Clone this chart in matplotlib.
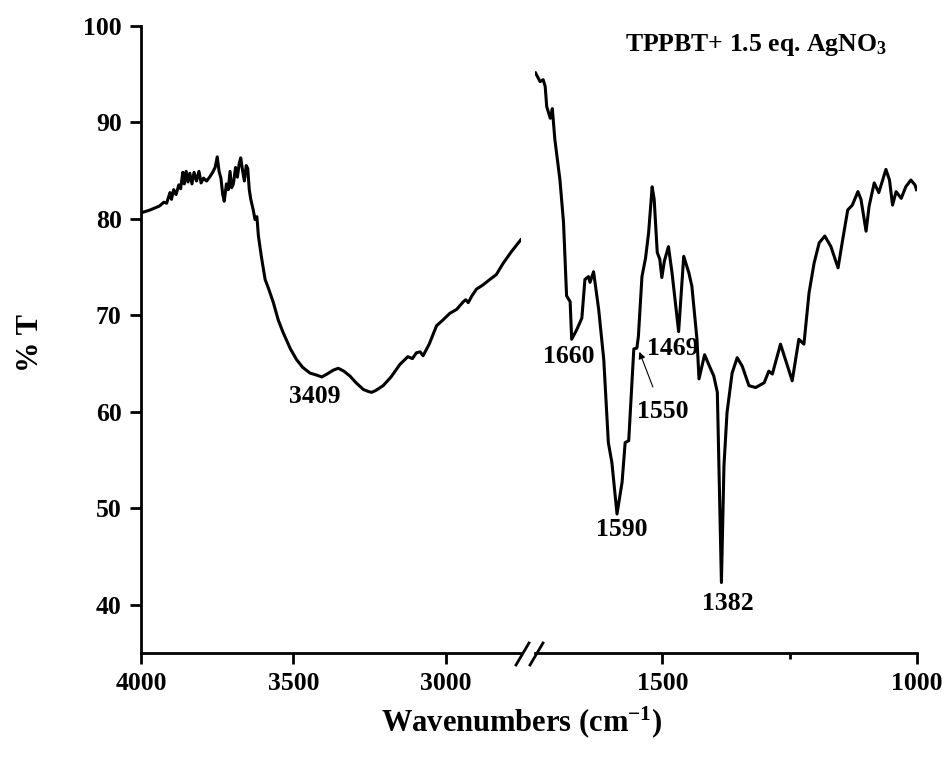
import matplotlib
matplotlib.use("Agg")
import matplotlib.pyplot as plt
from matplotlib.lines import Line2D

plt.rcParams['font.family'] = ['Liberation Serif', 'DejaVu Serif']
plt.rcParams['font.weight'] = 'bold'
plt.rcParams['mathtext.fontset'] = 'custom'
plt.rcParams['mathtext.rm'] = 'Liberation Serif:bold'
plt.rcParams['mathtext.bf'] = 'Liberation Serif:bold'
plt.rcParams['mathtext.it'] = 'Liberation Serif:bold'

# ---- data: high-wavenumber segment ----
left_wn = [4000, 3970, 3940, 3925, 3916, 3905, 3900, 3893, 3885, 3876, 3870, 3863,
           3858, 3852, 3846, 3840, 3833, 3826, 3818, 3810, 3803, 3795, 3785, 3775,
           3765, 3757, 3750, 3744, 3738, 3732, 3727, 3720, 3714, 3708, 3703, 3697,
           3690, 3684, 3678, 3673, 3667, 3661, 3655, 3650, 3645, 3640, 3632, 3626,
           3620, 3615, 3605, 3593, 3580, 3566, 3550, 3534, 3510, 3490, 3470, 3446,
           3425, 3407, 3390, 3370, 3353, 3335, 3315, 3295, 3271, 3255, 3244, 3230,
           3206, 3180, 3151, 3125, 3110, 3097, 3085, 3075, 3055, 3031, 3010, 2987,
           2965, 2943, 2935, 2927, 2915, 2900, 2880, 2856, 2835, 2812, 2785, 2755]
left_T = [80.6, 80.9, 81.3, 81.7, 81.6, 82.7, 82.0, 83.0, 82.5, 83.5, 83.1, 84.8,
          83.6, 84.9, 83.8, 84.7, 83.6, 84.8, 83.9, 84.9, 83.7, 84.2, 83.9, 84.3,
          84.8, 85.3, 86.4, 84.9, 84.2, 82.5, 81.8, 83.6, 83.0, 84.9, 83.2, 83.6,
          85.3, 84.3, 85.7, 86.3, 85.0, 83.9, 85.5, 85.2, 83.0, 82.0, 80.9, 79.9,
          80.2, 78.2, 76.0, 73.7, 72.6, 71.3, 69.5, 68.2, 66.5, 65.4, 64.6, 64.0,
          63.8, 63.6, 63.9, 64.3, 64.5, 64.2, 63.7, 63.0, 62.3, 62.1, 62.0, 62.2,
          62.7, 63.6, 64.9, 65.7, 65.5, 66.1, 66.2, 65.8, 67.0, 68.9, 69.5, 70.2,
          70.6, 71.4, 71.6, 71.3, 72.0, 72.7, 73.1, 73.7, 74.2, 75.4, 76.6, 77.8]

# ---- data: fingerprint segment ----
right_wn = [1749, 1740, 1734, 1730, 1727, 1720, 1716, 1711, 1701, 1694, 1688, 1681,
            1678, 1668, 1658, 1652, 1645, 1642, 1635, 1625, 1615, 1606, 1599, 1589,
            1579, 1573, 1566, 1556, 1550, 1547, 1540, 1533, 1527, 1520, 1516, 1510,
            1505, 1501, 1496, 1488, 1481, 1468, 1458, 1448, 1442, 1432, 1428, 1417,
            1409, 1399, 1392, 1384, 1379, 1373, 1363, 1353, 1343, 1330, 1317, 1300,
            1291, 1284, 1268, 1245, 1232, 1222, 1212, 1202, 1192, 1181, 1169, 1155,
            1146, 1136, 1127, 1116, 1110, 1100, 1094, 1084, 1075, 1061, 1054, 1048,
            1041, 1031, 1022, 1012, 1004, 1001]
right_T = [95.1, 94.2, 94.4, 93.7, 91.6, 90.4, 91.4, 88.2, 84.0, 79.6, 72.0, 71.4,
           67.5, 68.5, 69.7, 73.7, 74.0, 73.4, 74.5, 70.6, 65.4, 56.8, 54.7, 49.4,
           52.7, 56.8, 57.0, 66.5, 66.6, 67.8, 74.0, 75.9, 78.5, 83.3, 82.0, 76.5,
           75.8, 73.9, 75.6, 77.1, 74.4, 68.3, 76.1, 74.4, 73.0, 67.5, 63.4, 65.9,
           64.9, 63.7, 62.0, 42.3, 54.4, 59.9, 64.0, 65.6, 64.7, 62.7, 62.5, 63.0,
           64.2, 63.9, 67.0, 63.2, 67.5, 67.0, 72.3, 75.4, 77.5, 78.2, 77.1, 74.9,
           77.8, 80.9, 81.4, 82.8, 82.0, 78.7, 81.3, 83.7, 82.7, 85.1, 84.0, 81.4,
           82.8, 82.1, 83.3, 84.0, 83.5, 83.0]

left_ticks = [4000, 3500, 3000]
right_ticks = [1500, 1000]
right_minor = [1250]
y_ticks = [40, 50, 60, 70, 80, 90, 100]

peak_labels = [("3409", 'L', 3430, 61.6), ("1660", 'R', 1683, 65.7),
               ("1590", 'R', 1579, 47.8), ("1469", 'R', 1480, 66.5),
               ("1382", 'R', 1372, 40.1)]

W, H = 947, 759
fig = plt.figure(figsize=(W / 100, H / 100), dpi=100)

def fx(px):
    return px / W

def fy(py):
    return 1 - py / H

bottom = fy(653)
top = fy(25.6)
axL = fig.add_axes([fx(141), bottom, fx(521) - fx(141), top - bottom])
axR = fig.add_axes([fx(535), bottom, fx(917) - fx(535), top - bottom], sharey=axL)

lw_spine = 2.0
fs = 18.5
for ax in (axL, axR):
    ax.spines['top'].set_visible(False)
    ax.spines['right'].set_visible(False)
    ax.spines['bottom'].set_linewidth(lw_spine)
    ax.spines['left'].set_linewidth(lw_spine)
    ax.set_facecolor('none')
    ax.tick_params(axis='both', which='major', direction='out', length=8,
                   width=lw_spine, labelsize=fs, pad=6)
    ax.tick_params(axis='x', which='minor', direction='out', length=4, width=lw_spine)
axR.spines['left'].set_visible(False)
axR.tick_params(axis='y', which='both', left=False, labelleft=False)

axL.plot(left_wn, left_T, color='black', lw=2.2)
axR.plot(right_wn, right_T, color='black', lw=2.2)

axL.set_xlim(4000, 2754)
axR.set_xlim(1750, 1000)
axL.set_ylim(35, 100)
axL.set_xticks(left_ticks)
axR.set_xticks(right_ticks)
axR.set_xticks(right_minor, minor=True)
axL.set_yticks(y_ticks)
for ax in (axL, axR):
    for lab in ax.get_xticklabels() + ax.get_yticklabels():
        lab.set_fontweight('bold')

# break marks
for x0 in (516, 530):
    fig.add_artist(Line2D([fx(x0), fx(x0 + 13)], [fy(665), fy(643)],
                          color='black', lw=2.0))

for txt, side, xw, yt in peak_labels:
    ax = axL if side == 'L' else axR
    ax.text(xw, yt, txt, ha='center', va='center', fontsize=fs, fontweight='bold')

axR.annotate("1550", xy=(1545, 66.2), xytext=(1500, 60.0),
             ha='center', va='center', fontsize=fs, fontweight='bold',
             arrowprops=dict(arrowstyle='-|>', color='black', lw=0.8,
                             mutation_scale=10, shrinkA=8, shrinkB=0))

fig.text(fx(625), fy(51), r'TPPBT+ 1.5 eq. AgNO$_{\mathbf{3}}$', ha='left',
         va='baseline', fontsize=18.5, fontweight='bold')

fig.text(fx(522), fy(722), r'Wavenumbers (cm$^{\mathbf{-1}}$)', ha='center',
         va='center', fontsize=22, fontweight='bold')
fig.text(fx(30), fy(343), '% T', ha='center', va='center', rotation=90,
         fontsize=22, fontweight='bold')

fig.savefig('out.png', dpi=100)
